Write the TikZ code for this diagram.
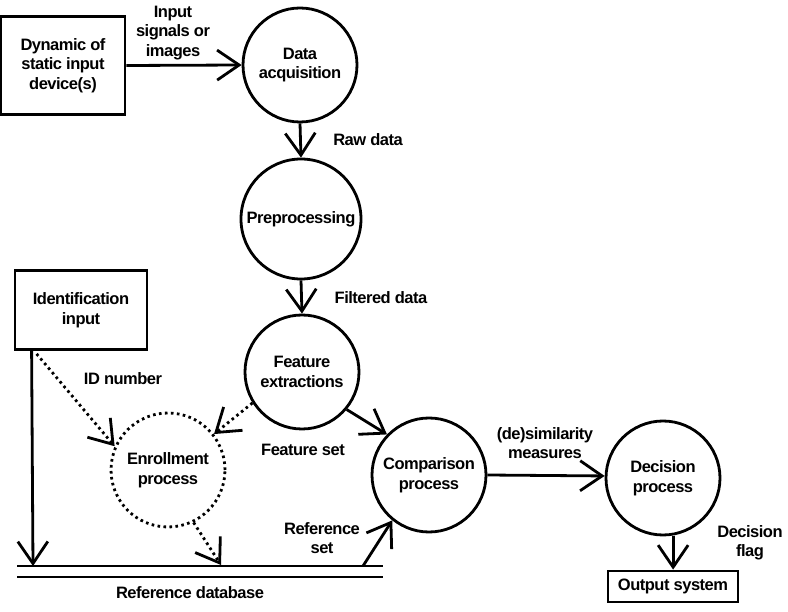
\documentclass[tikz,border=0pt]{standalone}
\usepackage{fontspec}
\setmainfont{Liberation Sans}[LetterSpace=-3]
\usetikzlibrary{arrows.meta}
\begin{document}
\begin{tikzpicture}[x=1pt,y=-1pt,
  every node/.style={font=\fontsize{16.5}{19.5}\selectfont\bfseries, align=center, inner sep=0pt},
  lw/.style={line width=2.8pt},
  proc/.style={lw, draw, circle, minimum size=114pt},
  boxn/.style={lw, draw, rectangle},
  arr/.style={lw, -{Straight Barb[length=22pt,width=30pt,line width=2.8pt]}},
  dotl/.style={dash pattern=on 2.6pt off 3.4pt},
  lbl/.style={}]
\useasboundingbox (0,0) rectangle (788,612);
% nodes
\node[boxn, minimum width=124pt, minimum height=98pt] (dev) at (63,65.5) {Dynamic of\\static input\\device(s)};
\node[proc] (da) at (300,65) {Data\\acquisition};
\node[proc, minimum size=120pt] (pre) at (301,219) {Preprocessing};
\node[proc] (fe) at (302,372) {Feature\\extractions};
\node[boxn, minimum width=132pt, minimum height=79pt] (idin) at (81,310) {Identification\\input};
\node[proc, dotl] (enr) at (168,470) {Enrollment\\process};
\node[proc] (cmp) at (429,475) {Comparison\\process};
\node[proc] (dec) at (663,478) {Decision\\process};
\node[boxn, minimum width=130pt, minimum height=31pt] (out) at (673,586.5) {Output system};
% database lines
\coordinate (dbTL) at (17,566);
\coordinate (dbTR) at (383,566);
\coordinate (dbBL) at (17,577);
\coordinate (dbBR) at (383,577);
\draw[lw] (dbTL) -- (dbTR);
\draw[lw] (dbBL) -- (dbBR);
\coordinate (dbId) at (33,566);
\coordinate (dbEn) at (221,565);
\coordinate (dbRef) at (363,566);
% labels
\node[lbl] (lin) at (173,33) {Input\\signals or\\images};
\node[lbl] (lraw) at (368,140) {Raw data};
\node[lbl] (lfil) at (381,298) {Filtered data};
\node[lbl] (lid) at (123,379) {ID number};
\node[lbl] (lfs) at (303,450) {Feature set};
\node[lbl] (lrs) at (322,538) {Reference\\set};
\node[lbl] (ldb) at (190,593) {Reference database};
\node[lbl] (lsim) at (545,443) {(de)similarity\\measures};
\node[lbl] (lflag) at (750,543) {Decision\\flag};
% connectors
\draw[arr] (dev.east) -- (da.west);
\draw[arr] (da.south) -- (pre.north);
\draw[arr] (pre.south) -- (fe.north);
\draw[arr, dotl] (fe.212) -- (enr.38);
\draw[arr] (fe.-40) -- (cmp.136);
\draw[arr, dotl] ([xshift=23pt,yshift=-3pt]idin.south west) -- (enr.156);
\draw[arr] ([xshift=18pt]idin.south west) -- (dbId);
\draw[arr, dotl] (enr.-64) -- (dbEn);
\draw[arr] (dbRef) -- (cmp.231);
\draw[arr] (cmp.east) -- (dec.178);
\draw[arr] (dec.-80) -- (dec.-80 |- out.north);
\end{tikzpicture}
\end{document}
